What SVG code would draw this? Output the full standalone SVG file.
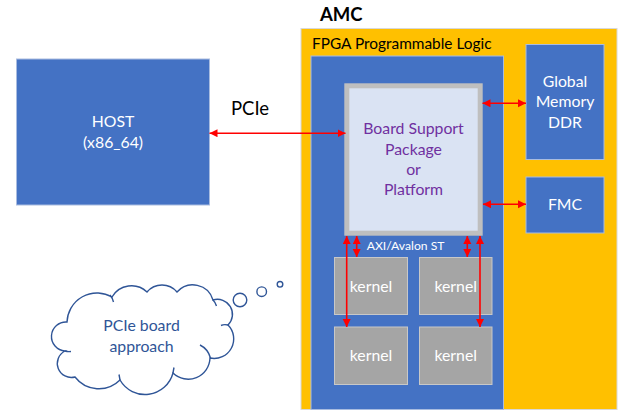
<svg xmlns="http://www.w3.org/2000/svg" width="619" height="411" viewBox="0 0 619 411">
  <style>
    .lbl { font-family: Lato, "Liberation Sans", sans-serif; text-anchor: middle; }
    .white { fill: #FFFFFF; }
    .blue { fill: #4472C4; stroke: #A9BCE0; stroke-width: 1; }
    .kern { fill: #A5A5A5; stroke: #C8C8C8; stroke-width: 1; }
    .wire { stroke: #FF0000; stroke-width: 1.6; fill: none; marker-start: url(#head); marker-end: url(#head); }
  </style>
  <defs>
    <marker id="head" markerUnits="userSpaceOnUse" markerWidth="9" markerHeight="9" refX="8" refY="4" orient="auto-start-reverse">
      <path d="M0,0 L8,4 L0,8 z" fill="#FF0000"/>
    </marker>
  </defs>
  <rect width="619" height="411" fill="#FFFFFF"/>

  <!-- host -->
  <g id="host">
    <rect class="blue" x="16.5" y="59" width="193" height="146"/>
    <text class="lbl white" x="113" y="127" font-size="15.8">HOST</text>
    <text class="lbl white" x="113" y="147.5" font-size="15.8">(x86_64)</text>
  </g>

  <!-- AMC card -->
  <g id="amc">
    <text x="320" y="20.5" font-family="Lato, 'Liberation Sans', sans-serif" font-weight="bold" font-size="18.5" fill="#000000">AMC</text>
    <rect x="301" y="28.5" width="316" height="381" fill="#FFC000" stroke="#D8D8D8" stroke-width="1"/>
  </g>

  <!-- FPGA fabric -->
  <g id="fpga">
    <text x="312" y="49" font-family="Lato, 'Liberation Sans', sans-serif" font-size="15.4" fill="#000000">FPGA Programmable Logic</text>
    <rect class="blue" x="311" y="56" width="192.5" height="353.5"/>
  </g>

  <!-- board support package -->
  <g id="bsp">
    <rect x="346.8" y="85.8" width="133.4" height="147.4" fill="#DAE3F3" stroke="#BFBFBF" stroke-width="5"/>
    <text class="lbl" x="413.5" y="134" font-size="15.8" fill="#7030A0">Board Support</text>
    <text class="lbl" x="413.5" y="154.5" font-size="15.8" fill="#7030A0">Package</text>
    <text class="lbl" x="413.5" y="174.5" font-size="15.8" fill="#7030A0">or</text>
    <text class="lbl" x="413.5" y="195" font-size="15.8" fill="#7030A0">Platform</text>
  </g>

  <!-- global memory -->
  <g id="ddr">
    <rect class="blue" x="526" y="44.5" width="78" height="115"/>
    <text class="lbl white" x="565" y="87" font-size="15.8">Global</text>
    <text class="lbl white" x="565" y="107.3" font-size="15.8">Memory</text>
    <text class="lbl white" x="565" y="127.6" font-size="15.8">DDR</text>
  </g>

  <!-- FMC -->
  <g id="fmc">
    <rect class="blue" x="526" y="177" width="78" height="56"/>
    <text class="lbl white" x="565" y="210" font-size="15.8">FMC</text>
  </g>

  <!-- kernels -->
  <g id="kernel1">
    <rect class="kern" x="334.5" y="257.5" width="73" height="57"/>
    <text class="lbl white" x="371" y="291.5" font-size="15.8">kernel</text>
  </g>
  <g id="kernel2">
    <rect class="kern" x="419.5" y="257.5" width="72.5" height="57"/>
    <text class="lbl white" x="455.7" y="291.5" font-size="15.8">kernel</text>
  </g>
  <g id="kernel3">
    <rect class="kern" x="334.5" y="327" width="73" height="57.5"/>
    <text class="lbl white" x="371" y="361" font-size="15.8">kernel</text>
  </g>
  <g id="kernel4">
    <rect class="kern" x="419.5" y="327" width="72.5" height="57.5"/>
    <text class="lbl white" x="455.7" y="361" font-size="15.8">kernel</text>
  </g>

  <!-- thought cloud -->
  <g id="cloud">
    <path d="M67,322 A30,30 0 0 1 112,297 A22.6,22.6 0 0 1 147,292 A19.6,19.6 0 0 1 177,292 A21,21 0 0 1 213,300 A15,15 0 0 1 228,325 A19.6,19.6 0 0 1 210,358 A21.8,21.8 0 0 1 173,373 A28.9,28.9 0 0 1 120,380 A30,30 0 0 1 75,377 A14,14 0 0 1 65,351 A14.5,14.5 0 0 1 67,322 Z" fill="#FFFFFF" stroke="#2F5597" stroke-width="1.4"/>
    <path d="M65,351 Q68,352 71,351.5 M110,295 Q112.5,298 113.5,302 M200,345 Q208,349 210.5,358 M120,380 Q119.5,377 119,374.5 M173,373 Q173.5,370 174,367.5 M213,300 Q215.5,302.5 216.5,306 M228,325 Q224,324 221,325.5" fill="none" stroke="#2F5597" stroke-width="1.4"/>
    <circle cx="240" cy="300" r="6.8" fill="#FFFFFF" stroke="#2F5597" stroke-width="1.4"/>
    <circle cx="261.7" cy="291.7" r="4.8" fill="#FFFFFF" stroke="#2F5597" stroke-width="1.4"/>
    <circle cx="280" cy="284.3" r="2.8" fill="#FFFFFF" stroke="#2F5597" stroke-width="1.4"/>
    <text class="lbl" x="141.5" y="331" font-size="15.8" fill="#2F5597">PCIe board</text>
    <text class="lbl" x="141.5" y="351.5" font-size="15.8" fill="#2F5597">approach</text>
  </g>

  <!-- links -->
  <g id="connectors">
    <line class="wire" x1="209.5" y1="133.2" x2="345.5" y2="133.2"/>
    <line class="wire" x1="482.5" y1="103.3" x2="526" y2="103.3"/>
    <line class="wire" x1="483" y1="204.3" x2="526" y2="204.3"/>
    <line class="wire" x1="346.7" y1="236" x2="346.7" y2="327"/>
    <line class="wire" x1="356.7" y1="236" x2="356.7" y2="257"/>
    <line class="wire" x1="467.3" y1="236" x2="467.3" y2="257"/>
    <line class="wire" x1="480" y1="236" x2="480" y2="327"/>
    <text x="366.7" y="250" font-family="Lato, 'Liberation Sans', sans-serif" font-size="12.2" fill="#FFFFFF">AXI/Avalon ST</text>
    <text class="lbl" x="250" y="115" font-size="18.5" fill="#000000">PCIe</text>
  </g>
</svg>
